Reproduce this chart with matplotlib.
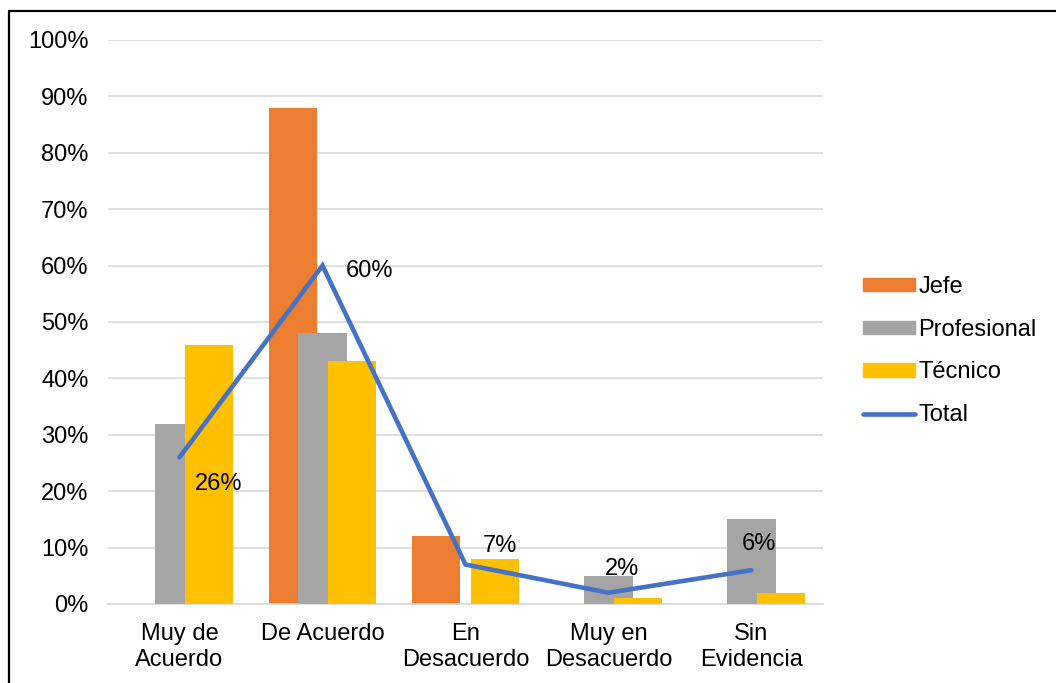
import numpy as np
import matplotlib
matplotlib.use("Agg")
from matplotlib import pyplot as plt
from matplotlib.lines import Line2D
from matplotlib.patches import Patch

categories = ["Muy de\nAcuerdo", "De Acuerdo", "En\nDesacuerdo", "Muy en\nDesacuerdo", "Sin\nEvidencia"]
jefe = [0, 88, 12, 0, 0]
profesional = [32, 48, 0, 5, 15]
tecnico = [46, 43, 8, 1, 2]
total = [26, 60, 7, 2, 6]
yticks = [0, 10, 20, 30, 40, 50, 60, 70, 80, 90, 100]

plt.rcParams["font.family"] = ["Liberation Sans", "DejaVu Sans"]
FS = 17

fig = plt.figure(figsize=(10.56, 6.83), dpi=100)
ax = fig.add_axes([108 / 1056, 1 - 604 / 683, 715 / 1056, 564 / 683])

x = np.arange(len(categories))
step = 0.203
width = 0.336
ax.bar(x - step, jefe, width, color="#ED7D31", zorder=2)
ax.bar(x, profesional, width, color="#A5A5A5", zorder=3)
ax.bar(x + step, tecnico, width, color="#FFC000", zorder=4)
ax.plot(x, total, color="#4472C4", lw=3.3, zorder=5, solid_capstyle="round", solid_joinstyle="miter")

# data labels for the total line, offsets in points
offsets = [(28, -19), (34, -4), (25, 13), (10, 17), (5, 19)]
for xi, v, (dx, dy) in zip(x, total, offsets):
    ax.annotate(f"{v}%", (xi, v), xytext=(dx, dy), textcoords="offset points",
                ha="center", va="center", fontsize=FS, zorder=6)

ax.set_xlim(-0.5, len(categories) - 0.5)
ax.set_ylim(0, 100)
ax.set_yticks(yticks)
ax.set_yticklabels([f"{t}%" for t in yticks])
ax.set_xticks(x)
ax.set_xticklabels(categories, linespacing=1.2)
ax.tick_params(axis="both", length=0, labelsize=FS)
ax.tick_params(axis="y", pad=14)
ax.tick_params(axis="x", pad=14)
ax.grid(axis="y", color="#D9D9D9", lw=1.2, zorder=0)
for side in ["top", "right", "left"]:
    ax.spines[side].set_visible(False)
ax.spines["bottom"].set_color("#D9D9D9")
ax.spines["bottom"].set_linewidth(1.2)

handles = [
    Patch(color="#ED7D31", label="Jefe"),
    Patch(color="#A5A5A5", label="Profesional"),
    Patch(color="#FFC000", label="Técnico"),
    Line2D([], [], color="#4472C4", lw=3.3, solid_capstyle="round", label="Total"),
]
fig.legend(handles=handles, loc="center left", bbox_to_anchor=(863 / 1056, 1 - 351 / 683),
           bbox_transform=fig.transFigure, frameon=False, fontsize=FS,
           handlelength=2.2, handleheight=0.5, handletextpad=0.15, labelspacing=0.88,
           borderpad=0, borderaxespad=0)

# outer frame on the left and top edges
fig.add_artist(Line2D([8.5 / 1056, 8.5 / 1056, 1.0], [0.0, 1 - 10.5 / 683, 1 - 10.5 / 683],
                      transform=fig.transFigure, color="black", lw=1.6))

fig.savefig("out.png", dpi=100)
